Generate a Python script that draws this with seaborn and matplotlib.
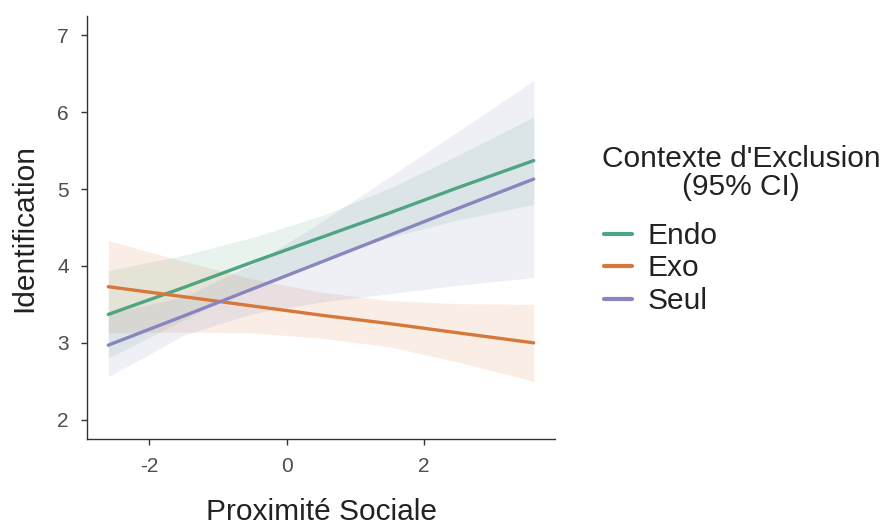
import numpy as np
import pandas as pd
import seaborn as sns
from matplotlib import pyplot as plt

prox = [-2.6, -1.5, -0.5, 0.5, 1.5, 2.5, 3.6]

groups = ['Endo', 'Exo', 'Seul']

endo_fit = [3.37, 3.72, 4.05, 4.37, 4.69, 5.02, 5.37]
endo_low = [2.80, 3.30, 3.73, 4.09, 4.37, 4.60, 4.80]
endo_high = [3.94, 4.14, 4.37, 4.65, 5.01, 5.44, 5.94]

exo_fit = [3.73, 3.60, 3.48, 3.36, 3.25, 3.13, 3.00]
exo_low = [3.13, 3.14, 3.13, 3.06, 2.95, 2.75, 2.50]
exo_high = [4.33, 4.06, 3.83, 3.66, 3.55, 3.51, 3.50]

seul_fit = [2.97, 3.35, 3.70, 4.05, 4.40, 4.75, 5.13]
seul_low = [2.56, 3.10, 3.38, 3.53, 3.64, 3.75, 3.85]
seul_high = [3.38, 3.60, 4.02, 4.57, 5.16, 5.75, 6.41]

x_ticks = [-2, 0, 2]
y_ticks = [2, 3, 4, 5, 6, 7]

colors = {'Endo': '#4FA583', 'Exo': '#D6783A', 'Seul': '#8885BF'}


def build_df() -> pd.DataFrame:
	fits = {'Endo': (endo_fit, endo_low, endo_high),
			'Exo': (exo_fit, exo_low, exo_high),
			'Seul': (seul_fit, seul_low, seul_high)}
	rows = []
	for g in groups:
		fit, low, high = fits[g]
		for x, f, lo, hi in zip(prox, fit, low, high):
			rows.append({'prox': x, 'ident': f, 'low': lo, 'high': hi, 'ctx': g})
	return pd.DataFrame(rows)


df = build_df()

sns.set_style('ticks')
plt.rcParams['font.family'] = ['Liberation Sans', 'DejaVu Sans']
plt.rcParams['axes.unicode_minus'] = False

fig = plt.figure(figsize=(8.83, 5.25), dpi=100)
ax = fig.add_axes([87 / 883, 1 - 439 / 525, (555 - 87) / 883, (439 - 16) / 525])

# ribbons first, lines on top
for g in groups:
	sub = df[df['ctx'] == g]
	ax.fill_between(sub['prox'], sub['low'], sub['high'], color=colors[g], alpha=0.13, linewidth=0)

sns.lineplot(data=df, x='prox', y='ident', hue='ctx', palette=colors, hue_order=groups,
			 linewidth=2.4, ax=ax, errorbar=None)

ax.set_xlim(-2.91, 3.91)
ax.set_ylim(1.75, 7.25)
ax.set_xticks(x_ticks)
ax.set_yticks(y_ticks)
ax.set_xlabel('Proximité Sociale', fontsize=21.5, color='#222222', labelpad=16)
ax.set_ylabel('Identification', fontsize=21.5, color='#222222', labelpad=14)
ax.tick_params(labelsize=15, labelcolor='#4D4D4D', color='#333333', length=4, width=1.0, pad=9)
for s in ['left', 'bottom']:
	ax.spines[s].set_color('#333333')
	ax.spines[s].set_linewidth(1.0)
sns.despine(ax=ax)

# legend: title as its own centred text, entries underneath
handles, labels = ax.get_legend_handles_labels()
ax.legend_.remove()
fig.text(741 / 883, 1 - 173 / 525, "Contexte d'Exclusion\n(95% CI)", ha='center', va='center',
		 multialignment='center', fontsize=21.5, color='#222222', linespacing=1.0)
leg = fig.legend(handles, labels, loc='upper left', bbox_to_anchor=(604 / 883, 1 - 222 / 525),
				 frameon=False, fontsize=21.5, handlelength=0.95, handletextpad=0.5,
				 labelspacing=0.15, borderpad=0, borderaxespad=0)
for h in leg.get_lines():
	h.set_linewidth(3.0)
for t in leg.get_texts():
	t.set_color('#222222')

fig.savefig('out.png', dpi=100)
